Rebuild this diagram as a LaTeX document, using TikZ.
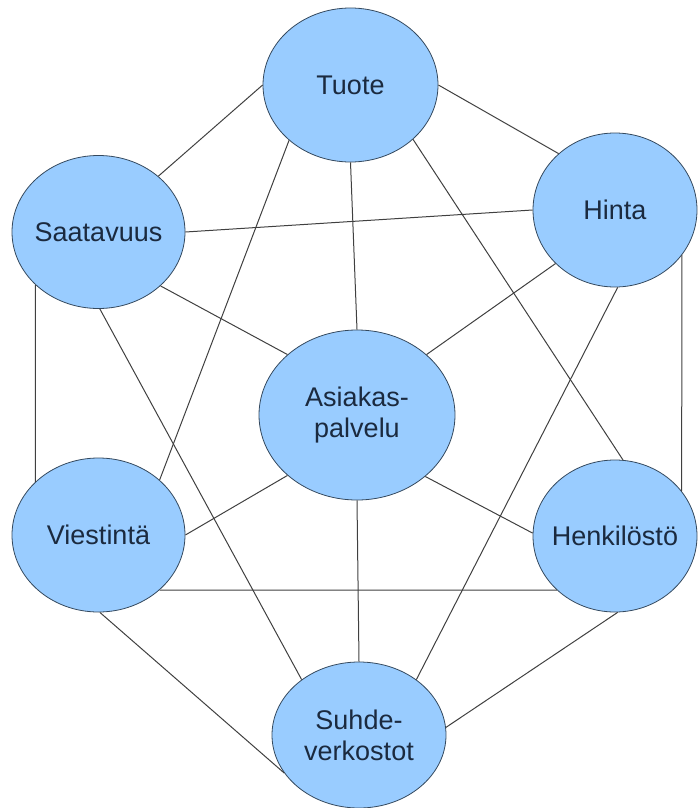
\documentclass[tikz,border=0pt]{standalone}
\usepackage{fontspec}
\setmainfont{Liberation Sans}
\usetikzlibrary{shapes.geometric}
\definecolor{cf}{HTML}{99CCFF}
\definecolor{cd}{HTML}{34495E}
\definecolor{ct}{HTML}{1B2A3F}

\begin{document}
\begin{tikzpicture}[x=1pt,y=-1pt,
  bub/.style={ellipse, fill=cf, draw=cd, line width=0.8pt, inner sep=0pt},
  txt/.style={text=ct, font=\fontsize{27}{31}\selectfont, align=center},
  link/.style={draw=black!75, line width=1pt}]
  \useasboundingbox (0,0) rectangle (698,808);
  \foreach \n/\x/\y/\w/\h/\lab in {tuote/350.5/85/175/154/Tuote, hinta/615/210/164/154/Hinta,
      saat/98.5/232/173/153/Saatavuus, asiak/357/415/196/170/{Asiakas-\\palvelu},
      viest/98.5/535/173/154/Viestintä, henk/615/536/164/152/Henkilöstö,
      suhde/359/735/174/146/{Suhde-\\verkostot}} {
    \node[bub, minimum width=\w, minimum height=\h, label={[txt]center:\lab}] (\n) at (\x,\y) {};}
  \foreach \a/\b in {tuote.180/saat.43, tuote.0/hinta.135, tuote.270/asiak.90, tuote.222/viest.42,
      tuote.319/henk.84, hinta.180/saat.0, hinta.222/asiak.41, hinta.326/henk.34, hinta.272/suhde.44,
      saat.319/asiak.139, saat.220/viest.140, saat.271/suhde.136, viest.0/asiak.221, viest.318/henk.223,
      viest.271/suhde.207, henk.178/asiak.318, henk.272/suhde.5, asiak.270/suhde.90} {
    \draw[link] (\a) -- (\b);}
\end{tikzpicture}
\end{document}
